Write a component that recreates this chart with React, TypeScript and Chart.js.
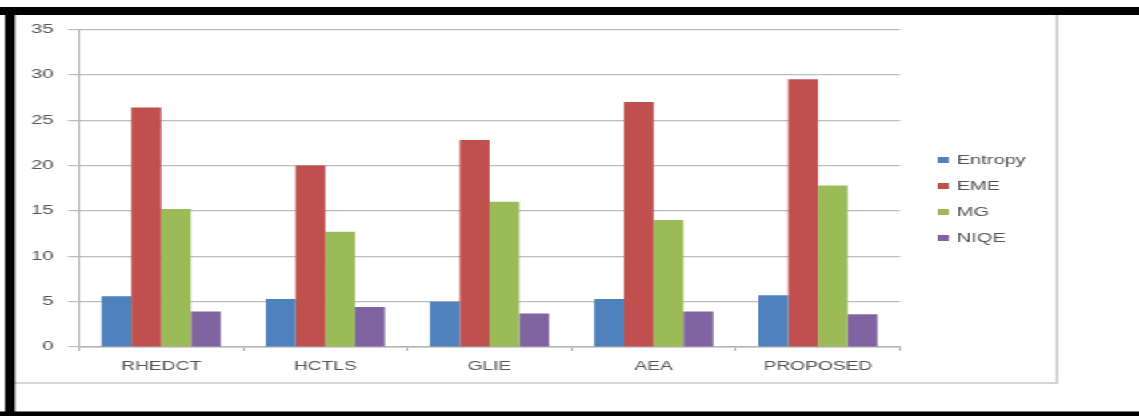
import React, { useEffect, useRef } from "react";
import { Chart, registerables } from "chart.js";

Chart.register(...registerables);

// Methods compared and their scores per metric
const categories = ["RHEDCT", "HCTLS", "GLIE", "AEA", "PROPOSED"];
const entropy = [5.6, 5.3, 5.0, 5.3, 5.7];
const eme = [26.4, 20.0, 22.8, 27.0, 29.5];
const mg = [15.2, 12.7, 16.0, 14.0, 17.8];
const niqe = [3.9, 4.4, 3.7, 3.9, 3.6];
const seriesNames = ["Entropy", "EME", "MG", "NIQE"];
const seriesColors = ["#4F81BD", "#C0504D", "#9BBB59", "#8064A2"];
const yTicks = [0, 5, 10, 15, 20, 25, 30, 35];

// The canvas is drawn narrow and widened horizontally with CSS
const STRETCH = 1.6;
const W = 712;
const H = 416;

const framePlugin = {
  id: "frame",
  beforeDraw(chart: any) {
    const ctx = chart.ctx;
    ctx.save();
    ctx.fillStyle = "#ffffff";
    ctx.fillRect(0, 0, W, H);
    // outer grey chart box
    ctx.strokeStyle = "#c9c9c9";
    ctx.lineWidth = 1.6;
    ctx.beginPath();
    ctx.moveTo(9, 383);
    ctx.lineTo(660.6, 383);
    ctx.lineTo(660.6, 14);
    ctx.stroke();
    ctx.restore();
  },
  afterDraw(chart: any) {
    const ctx = chart.ctx;
    ctx.save();
    // legend
    ctx.font = "12.5px 'Liberation Sans', Arial, sans-serif";
    ctx.textBaseline = "middle";
    ctx.textAlign = "left";
    chart.data.datasets.forEach((ds: any, i: number) => {
      const y = 160 + i * 26;
      ctx.fillStyle = ds.backgroundColor;
      ctx.fillRect(586, y - 3, 7, 6);
      ctx.fillStyle = "#555555";
      ctx.fillText(ds.label, 598, y + 0.5);
    });
    // black border bands
    ctx.fillStyle = "#000000";
    ctx.fillRect(0, 7, W, 8);
    ctx.fillRect(3.1, 7, 6.3, H - 7);
    ctx.fillRect(0, 411.5, W, H - 411.5);
    ctx.restore();
  },
};

export default function App() {
  const ref = useRef<HTMLCanvasElement | null>(null);

  useEffect(() => {
    if (!ref.current) return;
    const values = [entropy, eme, mg, niqe];
    const chart = new Chart(ref.current, {
      type: "bar",
      data: {
        labels: categories,
        datasets: values.map((v, i) => ({
          label: seriesNames[i],
          data: v,
          backgroundColor: seriesColors[i],
          borderWidth: 0,
          categoryPercentage: 0.725,
          barPercentage: 1,
        })),
      },
      options: {
        responsive: false,
        animation: false,
        devicePixelRatio: 1,
        layout: { padding: { left: 10, right: 149.5, top: 29.4, bottom: 39 } },
        plugins: {
          legend: { display: false },
          tooltip: { enabled: false },
          title: { display: false },
        },
        scales: {
          x: {
            afterFit: (s: any) => {
              s.height = 30;
            },
            grid: {
              offset: true,
              drawOnChartArea: false,
              drawTicks: true,
              tickLength: 4,
              tickColor: "#b4b4b4",
            },
            border: { display: true, color: "#b4b4b4", width: 1.5 },
            ticks: {
              color: "#555555",
              padding: 8,
              font: { family: "'Liberation Sans', Arial, sans-serif", size: 12 },
              maxRotation: 0,
            },
          },
          y: {
            min: 0,
            max: 35,
            afterFit: (s: any) => {
              s.width = 39.4;
            },
            afterBuildTicks: (s: any) => {
              s.ticks = yTicks.map((v) => ({ value: v }));
            },
            grid: {
              color: "#bdbdbd",
              lineWidth: 1.2,
              drawTicks: true,
              tickLength: 7,
              tickColor: "#bdbdbd",
            },
            border: { display: true, color: "#b4b4b4", width: 1 },
            ticks: {
              color: "#555555",
              padding: 9,
              font: { family: "'Liberation Sans', Arial, sans-serif", size: 12.5 },
            },
          },
        },
      },
      plugins: [framePlugin],
    });
    return () => chart.destroy();
  }, []);

  return (
    <div
      style={{
        position: "fixed",
        left: 0,
        top: 0,
        width: W,
        height: H,
        background: "#ffffff",
        transform: `scaleX(${STRETCH})`,
        transformOrigin: "0 0",
      }}
    >
      <canvas ref={ref} width={W} height={H} style={{ width: W, height: H, display: "block" }} />
    </div>
  );
}
